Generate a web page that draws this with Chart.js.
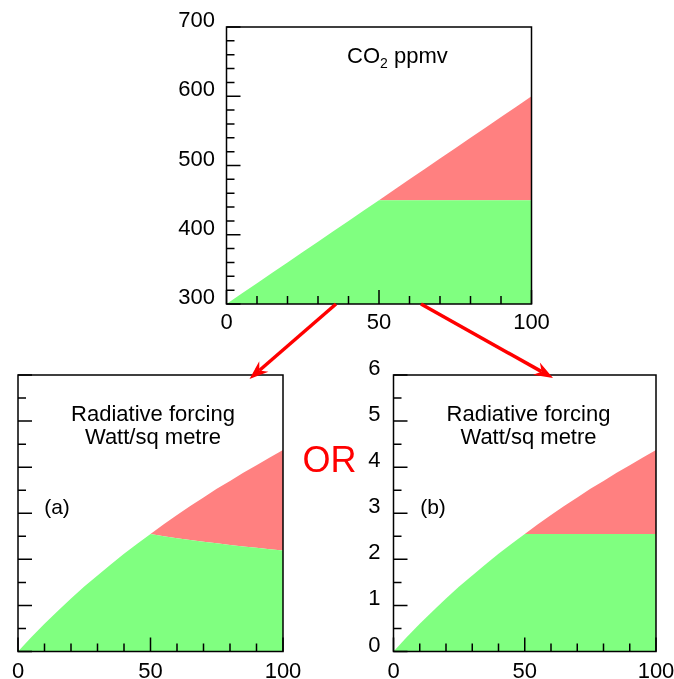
<!DOCTYPE html>
<html>
<head>
<meta charset="utf-8">
<title>CO2 and radiative forcing</title>
<script src="https://cdn.jsdelivr.net/npm/chart.js@4.4.1/dist/chart.umd.min.js"></script>
<style>
  html, body { margin: 0; padding: 0; background: #fff; }
  #page { position: relative; width: 674px; height: 679px; overflow: hidden; }
  #page canvas, #page svg { position: absolute; left: 0; top: 0; }
  svg text { font-family: "Liberation Sans", Arial, sans-serif; fill: #000; }
</style>
</head>
<body>
<div id="page">
  <canvas id="co2Chart" width="674" height="679"></canvas>
  <canvas id="forcingA" width="674" height="679"></canvas>
  <canvas id="forcingB" width="674" height="679"></canvas>
  <svg id="notes" width="674" height="679" xmlns="http://www.w3.org/2000/svg">
    <text x="347" y="63" font-size="22">CO<tspan font-size="14" dy="5">2</tspan><tspan dy="-5"> ppmv</tspan></text>
    <text x="153" y="421" font-size="22" text-anchor="middle">Radiative forcing</text>
    <text x="153" y="443.5" font-size="22" text-anchor="middle">Watt/sq metre</text>
    <text x="57" y="514" font-size="21" text-anchor="middle">(a)</text>
    <text x="528.5" y="421" font-size="22" text-anchor="middle">Radiative forcing</text>
    <text x="528.5" y="443.5" font-size="22" text-anchor="middle">Watt/sq metre</text>
    <text x="433" y="514" font-size="21" text-anchor="middle">(b)</text>
    <text x="302.5" y="472" font-size="36" style="fill:#ff0000">OR</text>
    <g id="arrows"></g>
  </svg>
</div>
<script>
// years along the bottom axis
const years = [0, 5, 10, 15, 20, 25, 30, 35, 40, 45, 50, 55, 60, 65, 70, 75, 80, 85, 90, 95, 100];

// CO2 concentration, ppmv: rising path and the part held at the 450 level
const co2Rising = [300, 315, 330, 345, 360, 375, 390, 405, 420, 435, 450, 465, 480, 495, 510, 525, 540, 555, 570, 585, 600];
const co2Held = [300, 315, 330, 345, 360, 375, 390, 405, 420, 435, 450, 450, 450, 450, 450, 450, 450, 450, 450, 450, 450];

// radiative forcing, W/m2, for the rising concentration
const forcingTotal = [0, 0.31, 0.60, 0.88, 1.15, 1.41, 1.65, 1.89, 2.12, 2.34, 2.55, 2.76, 2.96, 3.16, 3.34, 3.53, 3.70, 3.88, 4.04, 4.21, 4.37];
// (a) share of the first 450 ppmv shrinking as the total grows
const forcingHeldA = [0, 0.31, 0.60, 0.88, 1.15, 1.41, 1.65, 1.89, 2.12, 2.34, 2.55, 2.50, 2.46, 2.42, 2.38, 2.35, 2.31, 2.28, 2.25, 2.22, 2.19];
// (b) share of the first 450 ppmv staying fixed
const forcingHeldB = [0, 0.31, 0.60, 0.88, 1.15, 1.41, 1.65, 1.89, 2.12, 2.34, 2.55, 2.55, 2.55, 2.55, 2.55, 2.55, 2.55, 2.55, 2.55, 2.55, 2.55];

// tick labels
const yearTicks = [0, 50, 100];
const co2Ticks = [300, 400, 500, 600, 700];
const forcingTicks = [0, 1, 2, 3, 4, 5, 6];

const GREEN = '#80ff80';
const RED = '#ff8080';
const FONT = { family: '"Liberation Sans", Arial, sans-serif', size: 22 };

// box round the plot area with short ticks pointing inwards
const frameTicks = {
  id: 'frameTicks',
  afterDatasetsDraw(chart, args, opts) {
    const { ctx, chartArea: a } = chart;
    const xs = chart.scales.x, ys = chart.scales.y;
    const isMajor = (v, step) => Math.abs(v / step - Math.round(v / step)) < 1e-6;
    ctx.save();
    ctx.strokeStyle = '#000';
    ctx.lineWidth = 1.5;
    ctx.strokeRect(a.left, a.top, a.right - a.left, a.bottom - a.top);
    ctx.beginPath();
    const ny = Math.round((ys.max - ys.min) / opts.yMinor);
    for (let i = 0; i <= ny; i++) {
      const v = ys.min + i * opts.yMinor;
      const py = ys.getPixelForValue(v);
      ctx.moveTo(a.left, py);
      ctx.lineTo(a.left + (isMajor(v, opts.yMajor) ? 14 : 8), py);
    }
    const nx = Math.round((xs.max - xs.min) / opts.xMinor);
    for (let i = 0; i <= nx; i++) {
      const v = xs.min + i * opts.xMinor;
      const px = xs.getPixelForValue(v);
      ctx.moveTo(px, a.bottom);
      ctx.lineTo(px, a.bottom - (isMajor(v, opts.xMajor) ? 14 : 8));
    }
    ctx.stroke();
    ctx.restore();
  }
};

function points(values) {
  return years.map((x, i) => ({ x: x, y: values[i] }));
}

// area chart placed so that its plot area is the given box on the page
function panel(id, box, lower, upper, yRange, yLabels, yStep, showY) {
  const yWidth = Math.min(60, box.left);
  const xHeight = Math.min(34, 679 - box.bottom);
  return new Chart(document.getElementById(id), {
    type: 'line',
    data: {
      datasets: [{
        data: points(lower),
        fill: 'start',
        backgroundColor: GREEN,
        borderWidth: 0,
        pointRadius: 0
      }, {
        data: points(upper),
        fill: '-1',
        backgroundColor: RED,
        borderWidth: 0,
        pointRadius: 0
      }]
    },
    options: {
      responsive: false,
      animation: false,
      events: [],
      layout: {
        padding: {
          left: box.left - yWidth,
          right: 674 - box.right,
          top: box.top,
          bottom: 679 - box.bottom - xHeight
        }
      },
      plugins: {
        legend: { display: false },
        tooltip: { enabled: false },
        frameTicks: { yMinor: yStep.minor, yMajor: yStep.major, xMinor: 10, xMajor: 50 }
      },
      scales: {
        x: {
          type: 'linear',
          min: 0,
          max: 100,
          grid: { display: false, drawTicks: false },
          border: { display: false },
          afterBuildTicks: s => { s.ticks = yearTicks.map(v => ({ value: v })); },
          afterFit: s => { s.height = xHeight; s.paddingLeft = 0; s.paddingRight = 0; },
          ticks: { font: FONT, color: '#000', padding: box.xPad || 6, maxRotation: 0, autoSkip: false }
        },
        y: {
          type: 'linear',
          min: yRange[0],
          max: yRange[1],
          grid: { display: false, drawTicks: false },
          border: { display: false },
          afterBuildTicks: s => { s.ticks = yLabels.map(v => ({ value: v })); },
          afterFit: s => { s.width = yWidth; s.paddingTop = 0; s.paddingBottom = 0; },
          ticks: { display: showY, font: FONT, color: '#000', padding: box.yPad || 11, labelOffset: -6 }
        }
      }
    },
    plugins: [frameTicks]
  });
}

panel('co2Chart', { left: 226.5, right: 531.5, top: 27, bottom: 304, yPad: 11.5, xPad: 6 },
  co2Held, co2Rising, [300, 700], co2Ticks, { minor: 20, major: 100 }, true);
panel('forcingA', { left: 18, right: 283, top: 375, bottom: 651.5, xPad: 7 },
  forcingHeldA, forcingTotal, [0, 6], forcingTicks, { minor: 0.5, major: 1 }, false);
panel('forcingB', { left: 393.5, right: 656, top: 375, bottom: 651.5, yPad: 13, xPad: 7 },
  forcingHeldB, forcingTotal, [0, 6], forcingTicks, { minor: 0.5, major: 1 }, true);

// red arrows from the CO2 panel down to the two forcing panels
function arrow(x1, y1, x2, y2) {
  const dx = x2 - x1, dy = y2 - y1, len = Math.hypot(dx, dy);
  const ux = dx / len, uy = dy / len, nx = -uy, ny = ux;
  const head = 19, half = 7, notch = 13;
  const bx = x2 - ux * head, by = y2 - uy * head;
  const g = document.getElementById('arrows');
  const ns = 'http://www.w3.org/2000/svg';
  const line = document.createElementNS(ns, 'line');
  line.setAttribute('x1', x1); line.setAttribute('y1', y1);
  line.setAttribute('x2', x2 - ux * notch); line.setAttribute('y2', y2 - uy * notch);
  line.setAttribute('stroke', '#ff0000'); line.setAttribute('stroke-width', 3.5);
  g.appendChild(line);
  const tip = document.createElementNS(ns, 'polygon');
  tip.setAttribute('points', [
    [x2, y2],
    [bx + nx * half, by + ny * half],
    [x2 - ux * notch, y2 - uy * notch],
    [bx - nx * half, by - ny * half]
  ].map(p => p.join(',')).join(' '));
  tip.setAttribute('fill', '#ff0000');
  g.appendChild(tip);
}
arrow(336, 304, 249.5, 379);
arrow(421, 304, 553, 378);
</script>
</body>
</html>
